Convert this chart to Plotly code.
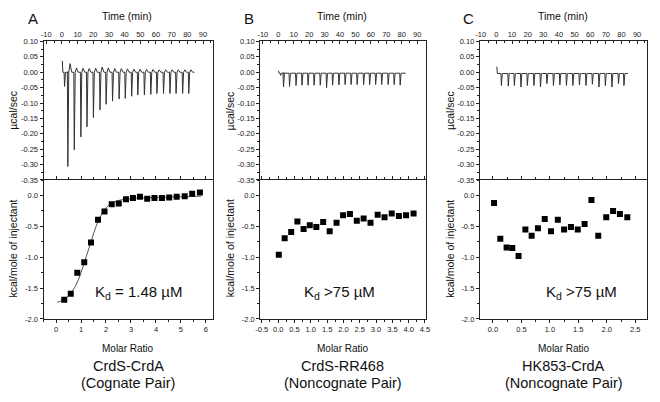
import plotly.graph_objects as go

W, H = 660, 402
FONT = "Liberation Sans"
OFF = 8  # browser body margin offset

# ---------------- data ----------------
# Panel A raw thermogram (CrdS-CrdA)
A_inj_t = [1.4, 3.5, 7.6, 11.8, 15.7, 19.8, 24.0, 27.9, 32.0, 36.2, 40.1, 44.2, 48.1, 52.3, 56.4, 60.3, 64.5, 68.6, 72.5, 76.7, 80.6]
A_peak = [-0.046, -0.306, -0.252, -0.21, -0.177, -0.147, -0.122, -0.104, -0.094, -0.087, -0.085, -0.078, -0.074, -0.074, -0.072, -0.069, -0.069, -0.069, -0.069, -0.069, -0.069]
A_over = [0.0, 0.028, 0.014, 0.013, 0.012, 0.013, 0.017, 0.014, 0.012, 0.012, 0.011, 0.010, 0.010, 0.009, 0.009, 0.008, 0.008, 0.008, 0.008, 0.008, 0.008]
A_start = [0.3, 0.037]
A_end = 84.5
A_base = 0.0

# Panel B raw thermogram (CrdS-RR468)
B_inj_t = [1.2, 3.1, 7.0, 11.2, 15.1, 19.0, 22.9, 26.9, 31.0, 34.9, 39.0, 43.0, 46.9, 50.8, 55.0, 58.9, 62.8, 66.7, 70.9, 74.8, 78.7]
B_peak = [-0.010, -0.048, -0.046, -0.043, -0.042, -0.042, -0.042, -0.042, -0.050, -0.042, -0.041, -0.040, -0.040, -0.040, -0.040, -0.040, -0.040, -0.040, -0.040, -0.040, -0.042]
B_start = [0.2, 0.005]
B_end = 82.5
B_base = -0.003

# Panel C raw thermogram (HK853-CrdA)
C_inj_t = [2.9, 7.3, 11.2, 15.4, 19.5, 23.7, 27.9, 32.0, 36.2, 40.3, 44.5, 48.6, 52.8, 57.0, 61.1, 65.3, 69.4, 73.6, 77.8, 81.3]
C_peak = [-0.043, -0.045, -0.043, -0.048, -0.043, -0.043, -0.048, -0.037, -0.043, -0.041, -0.043, -0.043, -0.041, -0.043, -0.039, -0.048, -0.043, -0.048, -0.037, -0.043]
C_start = [0.3, 0.018]
C_end = 84.0
C_base = -0.004

# Integrated heats
A_ratio = [0.33, 0.59, 0.85, 1.13, 1.40, 1.68, 1.94, 2.23, 2.51, 2.80, 3.08, 3.36, 3.65, 3.94, 4.24, 4.53, 4.83, 5.15, 5.45, 5.76]
A_heat = [-1.69, -1.59, -1.25, -1.08, -0.76, -0.39, -0.26, -0.14, -0.13, -0.06, -0.04, -0.02, -0.05, -0.04, -0.04, -0.03, -0.02, -0.01, 0.03, 0.05]
A_fit_x = [0.05, 0.3, 0.55, 0.8, 1.0, 1.2, 1.4, 1.6, 1.8, 2.0, 2.2, 2.5, 3.0, 4.0, 5.0, 5.8]
A_fit_y = [-1.73, -1.69, -1.60, -1.45, -1.25, -1.00, -0.75, -0.50, -0.32, -0.20, -0.13, -0.08, -0.05, -0.03, -0.02, -0.01]

B_ratio = [0.02, 0.20, 0.40, 0.59, 0.78, 0.97, 1.17, 1.38, 1.58, 1.79, 1.99, 2.20, 2.41, 2.62, 2.83, 3.05, 3.26, 3.48, 3.70, 3.92, 4.15]
B_heat = [-0.96, -0.69, -0.59, -0.42, -0.54, -0.48, -0.51, -0.43, -0.58, -0.44, -0.32, -0.30, -0.41, -0.37, -0.44, -0.31, -0.35, -0.29, -0.33, -0.32, -0.29]

C_ratio = [0.02, 0.13, 0.24, 0.34, 0.45, 0.57, 0.68, 0.79, 0.91, 1.02, 1.14, 1.25, 1.37, 1.49, 1.61, 1.73, 1.85, 1.99, 2.11, 2.23, 2.36]
C_heat = [-0.12, -0.70, -0.84, -0.85, -0.98, -0.55, -0.65, -0.53, -0.38, -0.58, -0.39, -0.55, -0.51, -0.55, -0.46, -0.07, -0.65, -0.35, -0.25, -0.30, -0.35]

panel_letters = ["A", "B", "C"]
kd_labels = ["K<sub>d</sub> = 1.48 µM", "K<sub>d</sub> >75 µM", "K<sub>d</sub> >75 µM"]
names = ["CrdS-CrdA", "CrdS-RR468", "HK853-CrdA"]
pair_types = ["(Cognate Pair)", "(Noncognate Pair)", "(Noncognate Pair)"]

time_ticks = [-10, 0, 10, 20, 30, 40, 50, 60, 70, 80, 90]
top_y_ticks = [0.10, 0.05, 0.00, -0.05, -0.10, -0.15, -0.20, -0.25, -0.30, -0.35]
bot_y_ticks = [0.0, -0.5, -1.0, -1.5, -2.0]
A_ratio_ticks = [0, 1, 2, 3, 4, 5, 6]
B_ratio_ticks = [-0.5, 0.0, 0.5, 1.0, 1.5, 2.0, 2.5, 3.0, 3.5, 4.0, 4.5]
C_ratio_ticks = [0.0, 0.5, 1.0, 1.5, 2.0, 2.5]


# ---------------- helpers ----------------
def thermogram(start, base, inj_t, peak, over, t_end):
    xs = [start[0], start[0] + 0.3]
    ys = [start[1], base]
    for t, d, o in zip(inj_t, peak, over):
        xs += [t, t + 0.3, t + 0.9, t + 1.7, t + 2.8]
        ys += [base, d, base, o, base]
    xs.append(t_end)
    ys.append(base)
    return xs, ys


def px(x):
    return (x - OFF) / W


def py(y):
    return 1 - (y - OFF) / H


fig = go.Figure()

# pixel boxes for panels (screen pixels)
xbox = [(39, 211), (259, 427), (482, 652)]
ytop = (38, 180)
ybot = (180, 322)

time_ranges = [[-11.7, 96.3], [-11.7, 95.5], [-10.6, 96.5]]
ratio_ranges = [[-0.5, 6.28], [-0.55, 4.52], [-0.23, 2.71]]
ratio_ticks = [A_ratio_ticks, B_ratio_ticks, C_ratio_ticks]
ratio_minor = [0.5, 0.25, 0.25]
ratio_fmt = [lambda v: f"{v:d}", lambda v: f"{v:.1f}", lambda v: f"{v:.1f}"]

thermos = [
    thermogram(A_start, A_base, A_inj_t, A_peak, A_over, A_end),
    thermogram(B_start, B_base, B_inj_t, B_peak, [B_base] * len(B_inj_t), B_end),
    thermogram(C_start, C_base, C_inj_t, C_peak, [C_base] * len(C_inj_t), C_end),
]
points = [(A_ratio, A_heat), (B_ratio, B_heat), (C_ratio, C_heat)]

tickfont = dict(family=FONT, size=7.5, color="#222")
axbase = dict(showline=True, linecolor="#222", linewidth=1,
              showgrid=False, zeroline=False)

annotations = []
for i in range(3):
    xa_top = f"x{2*i+1}" if i > 0 else "x"
    ya_top = f"y{2*i+1}" if i > 0 else "y"
    xa_bot = f"x{2*i+2}"
    ya_bot = f"y{2*i+2}"
    xd = [px(xbox[i][0]), px(xbox[i][1])]

    tx, ty = thermos[i]
    fig.add_trace(go.Scatter(x=tx, y=ty, mode="lines", xaxis=xa_top, yaxis=ya_top,
                             line=dict(color="#333", width=1), showlegend=False,
                             hoverinfo="skip"))
    rx, ry = points[i]
    if i == 0:
        fig.add_trace(go.Scatter(x=A_fit_x, y=A_fit_y, mode="lines", xaxis=xa_bot, yaxis=ya_bot,
                                 line=dict(color="#555", width=1, shape="spline"),
                                 showlegend=False, hoverinfo="skip"))
    fig.add_trace(go.Scatter(x=rx, y=ry, mode="markers", xaxis=xa_bot, yaxis=ya_bot,
                             marker=dict(symbol="square", size=6, color="black"),
                             showlegend=False))

    k_top_x = "xaxis" if i == 0 else f"xaxis{2*i+1}"
    k_top_y = "yaxis" if i == 0 else f"yaxis{2*i+1}"
    k_bot_x = f"xaxis{2*i+2}"
    k_bot_y = f"yaxis{2*i+2}"

    fig.layout[k_top_x] = dict(domain=xd, anchor=ya_top, side="top", range=time_ranges[i],
                               tickvals=time_ticks, ticktext=[str(v) for v in time_ticks],
                               ticks="inside", ticklen=3, tickfont=tickfont,
                               tickcolor="#222",
                               minor=dict(ticks="inside", ticklen=2, dtick=5, tick0=0,
                                          tickcolor="#222"),
                               mirror=False, **axbase)
    fig.layout[k_top_y] = dict(domain=[py(ytop[1]), py(ytop[0])], anchor=xa_top,
                               range=[-0.3505, 0.1005], tickvals=top_y_ticks,
                               ticktext=[f"{v:.2f}" for v in top_y_ticks],
                               ticks="outside", ticklen=3, tickfont=tickfont,
                               tickcolor="#222",
                               minor=dict(ticks="outside", ticklen=2, dtick=0.025, tick0=0,
                                          tickcolor="#222"),
                               mirror=True, **axbase)
    fig.layout[k_bot_x] = dict(domain=xd, anchor=ya_bot, range=ratio_ranges[i],
                               tickvals=ratio_ticks[i],
                               ticktext=[ratio_fmt[i](v) for v in ratio_ticks[i]],
                               ticks="outside", ticklen=3, tickfont=tickfont,
                               tickcolor="#222",
                               minor=dict(ticks="outside", ticklen=2, dtick=ratio_minor[i],
                                          tick0=0, tickcolor="#222"),
                               mirror="ticks", **axbase)
    fig.layout[k_bot_y] = dict(domain=[py(ybot[1]), py(ybot[0])], anchor=xa_bot,
                               range=[-2.0, 0.25], tickvals=bot_y_ticks,
                               ticktext=[f"{v:.1f}" for v in bot_y_ticks],
                               ticks="outside", ticklen=3, tickfont=tickfont,
                               tickcolor="#222",
                               minor=dict(ticks="outside", ticklen=2, dtick=0.25, tick0=0,
                                          tickcolor="#222"),
                               mirror=True, **axbase)

    cx = (xbox[i][0] + xbox[i][1]) / 2
    txt = dict(family=FONT, color="#111")
    common = dict(xref="paper", yref="paper", showarrow=False,
                  xanchor="center", yanchor="middle")
    annotations += [
        dict(x=px(xbox[i][0] - 11), y=py(15), text=panel_letters[i],
             font=dict(size=15, **txt), **common),
        dict(x=px(cx - 1), y=py(12), text="Time (min)",
             font=dict(size=10.5, **txt), **common),
        dict(x=px(xbox[i][0] - 31), y=py(109), text="µcal/sec", textangle=-90,
             font=dict(size=10.5, **txt), **common),
        dict(x=px(xbox[i][0] - 31), y=py(250), text="kcal/mole of injectant",
             textangle=-90, font=dict(size=10.5, **txt), **common),
        dict(x=px(cx), y=py(352), text="Molar Ratio",
             font=dict(size=10, **txt), **common),
        dict(x=px(cx), y=py(370), text=names[i],
             font=dict(size=14.5, **txt), **common),
        dict(x=px(cx), y=py(388), text=pair_types[i],
             font=dict(size=14.5, **txt), **common),
    ]

kd_pos = [(135, 295), (340, 295), (585, 295)]
for i in range(3):
    annotations.append(dict(x=px(kd_pos[i][0]), y=py(kd_pos[i][1]), text=kd_labels[i],
                            xref="paper", yref="paper", showarrow=False,
                            xanchor="center", yanchor="middle",
                            font=dict(family=FONT, size=15, color="#111")))

fig.update_layout(width=W, height=H, margin=dict(l=0, r=0, t=0, b=0),
                  paper_bgcolor="white", plot_bgcolor="white",
                  annotations=annotations, showlegend=False)

fig.write_html("out.html")
